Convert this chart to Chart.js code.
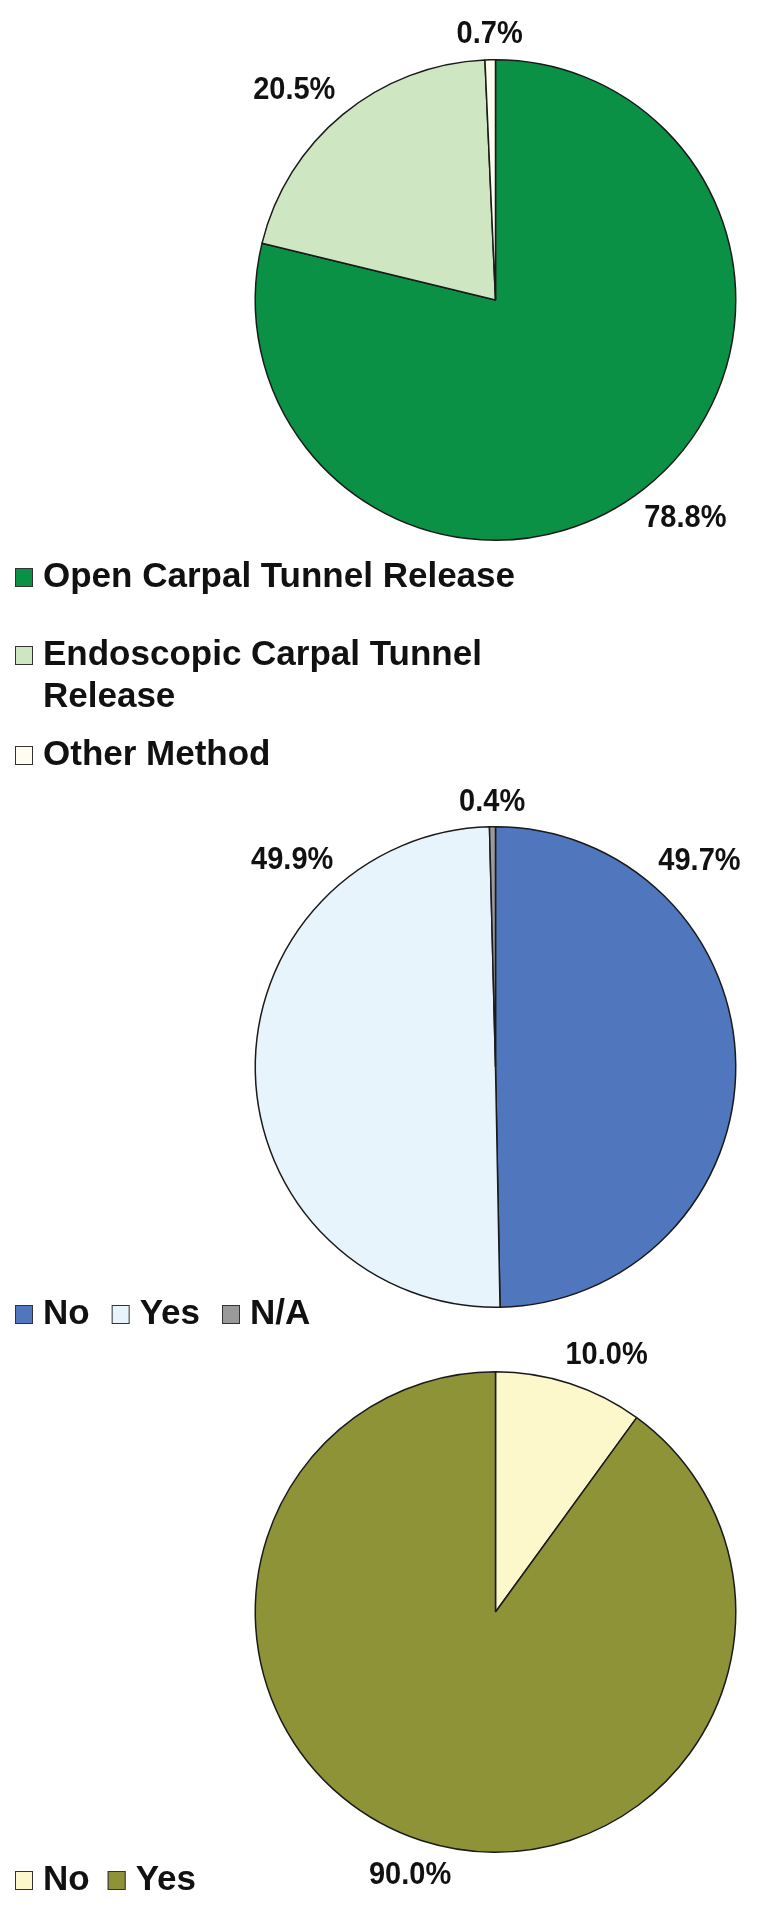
<!DOCTYPE html>
<html>
<head>
<meta charset="utf-8">
<script src="https://cdn.jsdelivr.net/npm/chart.js@4.4.1/dist/chart.umd.min.js"></script>
<style>
  html, body { margin: 0; padding: 0; background: #fff; }
  body { width: 766px; height: 1920px; position: relative; overflow: hidden; }
  canvas { position: absolute; left: 0; }
</style>
</head>
<body>
<canvas id="methodChart" width="766" height="780" style="top:0"></canvas>
<canvas id="answerChart" width="766" height="560" style="top:780px"></canvas>
<canvas id="followChart" width="766" height="600" style="top:1320px"></canvas>
<script>
const methodLabels = ['Open Carpal Tunnel Release', 'Endoscopic Carpal Tunnel Release', 'Other Method'];
const methodValues = [78.8, 20.5, 0.7];

const answerLabels = ['No', 'Yes', 'N/A'];
const answerValues = [49.7, 49.9, 0.4];

const followLabels = ['No', 'Yes'];
const followValues = [10.0, 90.0];

const FONT = '"Liberation Sans", Arial, Helvetica, sans-serif';
const TEXT_COLOR = '#111';
const EDGE_COLOR = '#1a1a1a';

function wrapText(ctx, text, maxWidth) {
  const words = text.split(' ');
  const lines = [];
  let line = '';
  words.forEach(w => {
    const test = line ? line + ' ' + w : w;
    if (line && ctx.measureText(test).width > maxWidth) {
      lines.push(line);
      line = w;
    } else {
      line = test;
    }
  });
  if (line) lines.push(line);
  return lines;
}

// percentage labels just outside the rim, placed along each arc
const pieLabels = {
  id: 'pieLabels',
  afterDatasetsDraw(chart, args, opts) {
    const ctx = chart.ctx;
    const meta = chart.getDatasetMeta(0);
    const values = chart.data.datasets[0].data;
    const stretch = opts.stretch || 1;
    ctx.save();
    ctx.font = `bold ${opts.size}px ${FONT}`;
    ctx.fillStyle = TEXT_COLOR;
    ctx.textAlign = 'center';
    ctx.textBaseline = 'middle';
    meta.data.forEach((arc, i) => {
      const { x, y, startAngle, endAngle, outerRadius } = arc.getProps(['x', 'y', 'startAngle', 'endAngle', 'outerRadius'], true);
      const f = (opts.anchors && opts.anchors[i] != null) ? opts.anchors[i] : 0.5;
      const a = startAngle + (endAngle - startAngle) * f;
      const text = values[i].toFixed(1) + '%';
      const halfW = ctx.measureText(text).width / 2;
      const halfH = opts.size * 0.38 * stretch;
      const cos = Math.cos(a), sin = Math.sin(a);
      const d = outerRadius + opts.gap + halfW * Math.abs(cos) + halfH * Math.abs(sin);
      ctx.save();
      ctx.translate(x + cos * d, y + sin * d);
      ctx.scale(1, stretch);
      ctx.fillText(text, 0, 0);
      ctx.restore();
    });
    ctx.restore();
  }
};

// square-box legend drawn below the pie, as a row or a column
const boxLegend = {
  id: 'boxLegend',
  afterDraw(chart, args, opts) {
    const ctx = chart.ctx;
    const ds = chart.data.datasets[0];
    ctx.save();
    ctx.font = `bold ${opts.size}px ${FONT}`;
    ctx.textBaseline = 'middle';
    ctx.textAlign = 'left';
    let x = opts.x;
    chart.data.labels.forEach((label, i) => {
      const lines = wrapText(ctx, label, opts.maxWidth || 9999);
      const y = opts.rows ? opts.rows[i] : opts.y;
      const bx = opts.rows ? opts.x : x;
      const by = Math.round(y - opts.boxH / 2);
      ctx.fillStyle = ds.backgroundColor[i];
      ctx.fillRect(bx, by, opts.boxW, opts.boxH);
      ctx.strokeStyle = '#333';
      ctx.lineWidth = 1;
      ctx.strokeRect(bx + 0.5, by + 0.5, opts.boxW - 1, opts.boxH - 1);
      ctx.fillStyle = TEXT_COLOR;
      const tx = bx + opts.boxW + opts.textGap;
      lines.forEach((line, j) => ctx.fillText(line, tx, y + j * opts.lineHeight));
      const w = Math.max(...lines.map(l => ctx.measureText(l).width));
      x = tx + w + (opts.itemGap || 0);
    });
    ctx.restore();
  }
};

function pieChart(canvasId, labels, values, colors, padding, labelOpts, legendOpts) {
  const ctx = document.getElementById(canvasId);
  return new Chart(ctx, {
    type: 'pie',
    data: {
      labels,
      datasets: [{
        data: values,
        backgroundColor: colors,
        borderColor: EDGE_COLOR,
        borderWidth: 1.5
      }]
    },
    options: {
      responsive: false,
      animation: false,
      events: [],
      layout: { padding },
      plugins: {
        legend: { display: false },
        tooltip: { enabled: false },
        pieLabels: labelOpts,
        boxLegend: legendOpts
      }
    },
    plugins: [pieLabels, boxLegend]
  });
}

pieChart('methodChart', methodLabels, methodValues,
  ['#0b9146', '#cfe6c2', '#fffcf0'],
  { left: 254, right: 29, top: 59, bottom: 239 },
  { size: 29, gap: 13, stretch: 1.1, anchors: [0.49, 0.44, 0.5] },
  { x: 15, rows: [577, 655, 755], size: 35, boxW: 18, boxH: 19, textGap: 10, lineHeight: 42, maxWidth: 500 });

pieChart('answerChart', answerLabels, answerValues,
  ['#5076bd', '#e8f4fb', '#9a9a9a'],
  { left: 254, right: 29, top: 46, bottom: 32 },
  { size: 29, gap: 12, stretch: 1.1, anchors: [0.25, 0.76, 0.5] },
  { x: 15, y: 534, size: 35, boxW: 18, boxH: 19, textGap: 10, lineHeight: 42, itemGap: 22 });

pieChart('followChart', followLabels, followValues,
  ['#fcf8cc', '#8f9338'],
  { left: 254, right: 29, top: 51, bottom: 67 },
  { size: 29, gap: 12, stretch: 1.1, anchors: [0.65, 0.5] },
  { x: 15, y: 560, size: 35, boxW: 18, boxH: 19, textGap: 10, lineHeight: 42, itemGap: 18 });
</script>
</body>
</html>
